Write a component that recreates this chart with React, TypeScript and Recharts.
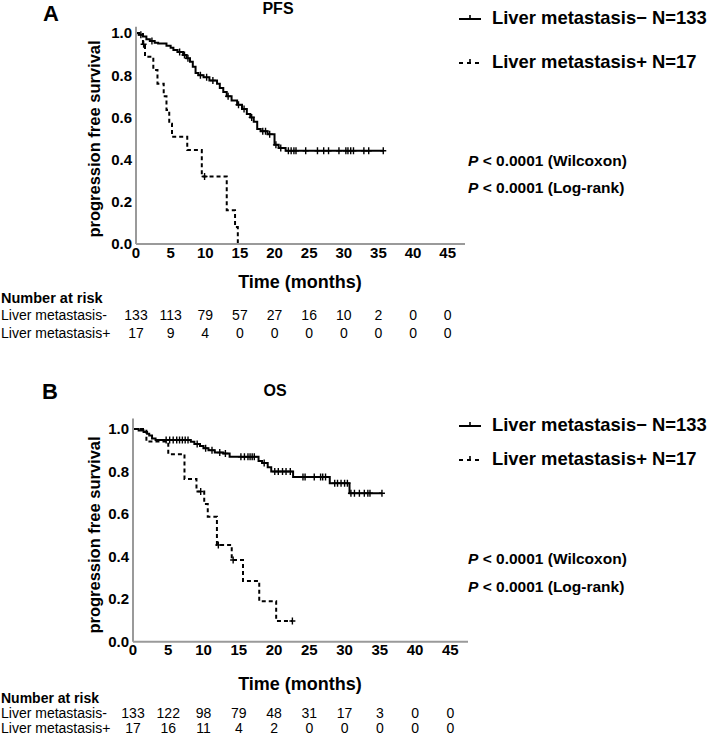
import React from "react"
import { LineChart, Line, XAxis, YAxis } from "recharts"

// Kaplan–Meier rows: [time (months), survival, censored]
const PFS_NEG: [number, number, number][] = [
  [0, 1.0, 0], [0.4, 0.992, 0], [0.7, 0.992, 1], [1.0, 0.984, 0], [1.5, 0.97, 0],
  [2.0, 0.962, 0], [2.3, 0.962, 1], [2.7, 0.954, 0], [3.2, 0.95, 0], [4.4, 0.94, 0],
  [5.0, 0.93, 0], [5.4, 0.92, 0], [6.0, 0.91, 0], [6.3, 0.91, 1], [6.8, 0.896, 0],
  [7.0, 0.896, 1], [7.3, 0.88, 0], [7.5, 0.88, 1], [7.8, 0.864, 0], [8.2, 0.84, 0],
  [8.6, 0.81, 0], [9.0, 0.8, 0], [9.3, 0.8, 1], [9.75, 0.79, 0], [10.2, 0.79, 1],
  [10.6, 0.775, 0], [11.1, 0.775, 1], [11.7, 0.76, 0], [12.1, 0.74, 0], [12.6, 0.72, 0],
  [13.1, 0.7, 0], [13.3, 0.7, 1], [13.8, 0.68, 0], [14.6, 0.66, 0], [14.8, 0.66, 1],
  [15.3, 0.64, 0], [15.6, 0.64, 1], [16.0, 0.616, 0], [16.5, 0.6, 0], [16.7, 0.6, 1],
  [17.0, 0.58, 0], [17.5, 0.545, 0], [18.0, 0.535, 0], [18.3, 0.535, 1], [18.7, 0.535, 1],
  [19.0, 0.52, 0], [19.3, 0.52, 1], [20.0, 0.47, 0], [20.2, 0.47, 1], [20.6, 0.455, 0],
  [20.9, 0.455, 1], [21.6, 0.442, 0], [22.0, 0.442, 1], [22.4, 0.442, 1], [22.8, 0.442, 1],
  [23.1, 0.442, 1], [24.5, 0.442, 1], [26.2, 0.442, 1], [27.1, 0.442, 1], [27.8, 0.442, 1],
  [29.3, 0.442, 1], [30.3, 0.442, 1], [30.6, 0.442, 1], [31.0, 0.442, 1], [31.4, 0.442, 1],
  [32.9, 0.442, 1], [33.6, 0.442, 1], [35.7, 0.442, 1],
]

const PFS_POS: [number, number, number][] = [
  [0, 1.0, 0], [1.0, 0.947, 0], [1.1, 0.947, 1], [1.3, 0.888, 0], [2.5, 0.825, 0],
  [3.1, 0.76, 0], [4.0, 0.7, 0], [4.4, 0.635, 0], [4.8, 0.57, 0], [5.2, 0.508, 0],
  [7.4, 0.445, 0], [9.5, 0.32, 0], [9.9, 0.32, 1], [13.1, 0.16, 0], [14.3, 0.08, 0],
  [14.7, 0, 0],
]

const OS_NEG: [number, number, number][] = [
  [0, 1.0, 0], [0.8, 0.993, 0], [1.5, 0.986, 0], [2.0, 0.978, 0], [2.3, 0.97, 0],
  [2.7, 0.955, 0], [3.2, 0.948, 0], [4.7, 0.948, 1], [5.2, 0.948, 1], [5.7, 0.948, 1],
  [6.2, 0.948, 1], [6.6, 0.948, 1], [7.0, 0.948, 1], [7.4, 0.948, 1], [7.8, 0.948, 1],
  [8.2, 0.94, 0], [8.7, 0.93, 0], [9.1, 0.93, 1], [9.5, 0.92, 0], [10.0, 0.91, 0],
  [10.3, 0.91, 1], [10.7, 0.9, 0], [11.2, 0.9, 1], [11.6, 0.89, 0], [12.3, 0.89, 1],
  [12.8, 0.885, 0], [13.1, 0.885, 1], [13.7, 0.87, 0], [15.3, 0.87, 1], [15.8, 0.87, 1],
  [16.3, 0.87, 1], [16.6, 0.87, 1], [16.9, 0.87, 1], [17.2, 0.87, 1], [17.8, 0.85, 0],
  [18.3, 0.84, 0], [18.6, 0.84, 1], [19.1, 0.82, 0], [19.6, 0.8, 0], [20.1, 0.8, 1],
  [20.6, 0.8, 1], [21.2, 0.8, 1], [21.7, 0.8, 1], [22.3, 0.8, 1], [22.7, 0.775, 0],
  [24.1, 0.775, 1], [24.4, 0.775, 1], [25.7, 0.775, 1], [26.6, 0.775, 1], [26.9, 0.775, 1],
  [27.3, 0.775, 1], [27.9, 0.745, 0], [28.6, 0.745, 1], [29.0, 0.745, 1], [29.5, 0.745, 1],
  [30.0, 0.745, 1], [30.4, 0.745, 1], [30.7, 0.698, 0], [30.9, 0.698, 1], [31.4, 0.698, 1],
  [32.1, 0.698, 1], [32.8, 0.698, 1], [33.3, 0.698, 1], [33.6, 0.698, 1], [35.3, 0.698, 1],
]

const OS_POS: [number, number, number][] = [
  [0, 1.0, 0], [1.9, 0.941, 0], [5.0, 0.882, 0], [7.3, 0.765, 0], [9.0, 0.706, 0],
  [9.6, 0.706, 1], [10.1, 0.647, 0], [10.6, 0.588, 0], [11.9, 0.455, 0], [12.1, 0.455, 1],
  [14.0, 0.384, 0], [14.2, 0.384, 1], [15.6, 0.285, 0], [17.9, 0.19, 0], [20.3, 0.097, 0],
  [22.6, 0.097, 1],
]

const TIME_TICKS = [0, 5, 10, 15, 20, 25, 30, 35, 40, 45]
const SURV_TICKS = [0, 0.2, 0.4, 0.6, 0.8, 1.0]

const PFS_RISK_NEG = [133, 113, 79, 57, 27, 16, 10, 2, 0, 0]
const PFS_RISK_POS = [17, 9, 4, 0, 0, 0, 0, 0, 0, 0]
const OS_RISK_NEG = [133, 122, 98, 79, 48, 31, 17, 3, 0, 0]
const OS_RISK_POS = [17, 16, 11, 4, 2, 0, 0, 0, 0, 0]

const FONT = "'Liberation Sans', Arial, Helvetica, sans-serif"
const AXIS_GRAY = "#9a9a9a"

const toRows = (arr: [number, number, number][]) => arr.map(([t, s, c]) => ({ t, s, c }))

const censorDot = (props: any) => {
  const { cx, cy, payload, index } = props
  if (!payload || !payload.c || cx == null) return <g key={`d${index}`} />
  return (
    <path
      key={`d${index}`}
      d={`M${cx - 3},${cy}H${cx + 3}M${cx},${cy - 3.5}V${cy + 3.5}`}
      stroke="#000"
      strokeWidth={1.4}
      fill="none"
    />
  )
}

function Txt({ x, y, size, bold, italic, anchor = "middle", children }: any) {
  return (
    <div
      style={{
        position: "absolute",
        left: x,
        top: y,
        transform: anchor === "middle" ? "translate(-50%, -50%)" : "translate(0, -50%)",
        fontSize: size,
        fontWeight: bold ? 700 : 400,
        fontStyle: italic ? "italic" : "normal",
        whiteSpace: "nowrap",
        lineHeight: 1,
        color: "#000",
      }}
    >
      {children}
    </div>
  )
}

function LegendIcon({ x, y, dashed }: { x: number; y: number; dashed?: boolean }) {
  return (
    <svg width={24} height={12} style={{ position: "absolute", left: x, top: y - 6 }}>
      <line x1={1} x2={23} y1={7} y2={7} stroke="#000" strokeWidth={2} strokeDasharray={dashed ? "4 4" : undefined} />
      <line x1={12} x2={12} y1={3} y2={7} stroke="#000" strokeWidth={1.6} />
    </svg>
  )
}

interface PanelProps {
  top: number
  height: number
  plotTop: number
  yAxisWidth: number
  rightMargin: number
  bottomMargin: number
  yMax: number
  neg: [number, number, number][]
  pos: [number, number, number][]
  riskNeg: number[]
  riskPos: number[]
  row1: number
  row2: number
}

function KMPanel(p: PanelProps) {
  const renderTick = (props: any) => {
    const { x, y, payload, index } = props
    return (
      <g key={`t${index}`} fontFamily={FONT}>
        <text x={x} y={y} dy="0.71em" textAnchor="middle" fontSize={15} fontWeight={700} fill="#000">
          {payload.value}
        </text>
        <text x={x} y={y + p.row1} dy="0.36em" textAnchor="middle" fontSize={14} fill="#000">
          {p.riskNeg[index]}
        </text>
        <text x={x} y={y + p.row2} dy="0.36em" textAnchor="middle" fontSize={14} fill="#000">
          {p.riskPos[index]}
        </text>
      </g>
    )
  }

  return (
    <div style={{ position: "absolute", left: 0, top: p.top }}>
      <LineChart
        width={708}
        height={p.height}
        margin={{ top: p.plotTop, right: p.rightMargin, bottom: p.bottomMargin, left: 0 }}
      >
        <XAxis
          type="number"
          dataKey="t"
          domain={[0, 47.5]}
          ticks={TIME_TICKS}
          interval={0}
          allowDataOverflow
          height={30}
          tickLine={false}
          tickSize={0}
          tickMargin={3}
          axisLine={{ stroke: AXIS_GRAY, strokeWidth: 2 }}
          tick={renderTick}
        />
        <YAxis
          type="number"
          domain={[0, p.yMax]}
          ticks={SURV_TICKS}
          interval={0}
          allowDataOverflow
          width={p.yAxisWidth}
          tickLine={false}
          tickSize={0}
          tickMargin={4}
          axisLine={{ stroke: AXIS_GRAY, strokeWidth: 2 }}
          tickFormatter={(v: number) => v.toFixed(1)}
          tick={{ fontSize: 15, fontWeight: 700, fill: "#000", fontFamily: FONT }}
        />
        <Line
          data={toRows(p.neg)}
          dataKey="s"
          type="stepAfter"
          stroke="#000"
          strokeWidth={2}
          dot={censorDot}
          activeDot={false}
          isAnimationActive={false}
        />
        <Line
          data={toRows(p.pos)}
          dataKey="s"
          type="stepAfter"
          stroke="#000"
          strokeWidth={2}
          strokeDasharray="4 3"
          dot={censorDot}
          activeDot={false}
          isAnimationActive={false}
        />
      </LineChart>
    </div>
  )
}

export default function App() {
  return (
    <div
      style={{
        position: "absolute",
        left: 0,
        top: 0,
        width: 708,
        height: 735,
        background: "#fff",
        fontFamily: FONT,
        overflow: "hidden",
      }}
    >
      {/* Panel A: PFS */}
      <KMPanel
        top={0}
        height={345}
        plotTop={26.7}
        yAxisWidth={136}
        rightMargin={243}
        bottomMargin={71}
        yMax={1.03}
        neg={PFS_NEG}
        pos={PFS_POS}
        riskNeg={PFS_RISK_NEG}
        riskPos={PFS_RISK_POS}
        row1={68}
        row2={86}
      />
      <Txt x={51} y={14} size={22} bold>A</Txt>
      <Txt x={278} y={9} size={16} bold>PFS</Txt>
      <div
        style={{
          position: "absolute",
          left: 94,
          top: 139,
          transform: "translate(-50%, -50%) rotate(-90deg)",
          fontSize: 16.5,
          fontWeight: 700,
          whiteSpace: "nowrap",
          lineHeight: 1,
        }}
      >
        progression free survival
      </div>
      <LegendIcon x={458} y={18} />
      <Txt x={492} y={18} size={18.4} bold anchor="start">Liver metastasis− N=133</Txt>
      <LegendIcon x={458} y={62} dashed />
      <Txt x={492} y={62} size={18.4} bold anchor="start">Liver metastasis+ N=17</Txt>
      <Txt x={468} y={161} size={15.5} bold anchor="start"><i>P</i> &lt; 0.0001 (Wilcoxon)</Txt>
      <Txt x={468} y={188} size={15.5} bold anchor="start"><i>P</i> &lt; 0.0001 (Log-rank)</Txt>
      <Txt x={300} y={282} size={18} bold>Time (months)</Txt>
      <Txt x={1} y={298} size={14.5} bold anchor="start">Number at risk</Txt>
      <Txt x={1} y={315} size={14} anchor="start">Liver metastasis-</Txt>
      <Txt x={1} y={333} size={14} anchor="start">Liver metastasis+</Txt>

      {/* Panel B: OS */}
      <KMPanel
        top={360}
        height={375}
        plotTop={58.4}
        yAxisWidth={133}
        rightMargin={240}
        bottomMargin={63.3}
        yMax={1.05}
        neg={OS_NEG}
        pos={OS_POS}
        riskNeg={OS_RISK_NEG}
        riskPos={OS_RISK_POS}
        row1={68}
        row2={83}
      />
      <Txt x={50} y={392} size={22} bold>B</Txt>
      <Txt x={275} y={391} size={16} bold>OS</Txt>
      <div
        style={{
          position: "absolute",
          left: 94,
          top: 535,
          transform: "translate(-50%, -50%) rotate(-90deg)",
          fontSize: 16.5,
          fontWeight: 700,
          whiteSpace: "nowrap",
          lineHeight: 1,
        }}
      >
        progression free survival
      </div>
      <LegendIcon x={458} y={425} />
      <Txt x={492} y={425} size={18.4} bold anchor="start">Liver metastasis− N=133</Txt>
      <LegendIcon x={458} y={459} dashed />
      <Txt x={492} y={459} size={18.4} bold anchor="start">Liver metastasis+ N=17</Txt>
      <Txt x={468} y={559} size={15.5} bold anchor="start"><i>P</i> &lt; 0.0001 (Wilcoxon)</Txt>
      <Txt x={468} y={587} size={15.5} bold anchor="start"><i>P</i> &lt; 0.0001 (Log-rank)</Txt>
      <Txt x={300} y={684} size={18} bold>Time (months)</Txt>
      <Txt x={1} y={698} size={14} bold anchor="start">Number at risk</Txt>
      <Txt x={1} y={713} size={14} anchor="start">Liver metastasis-</Txt>
      <Txt x={1} y={728} size={14} anchor="start">Liver metastasis+</Txt>
    </div>
  )
}
